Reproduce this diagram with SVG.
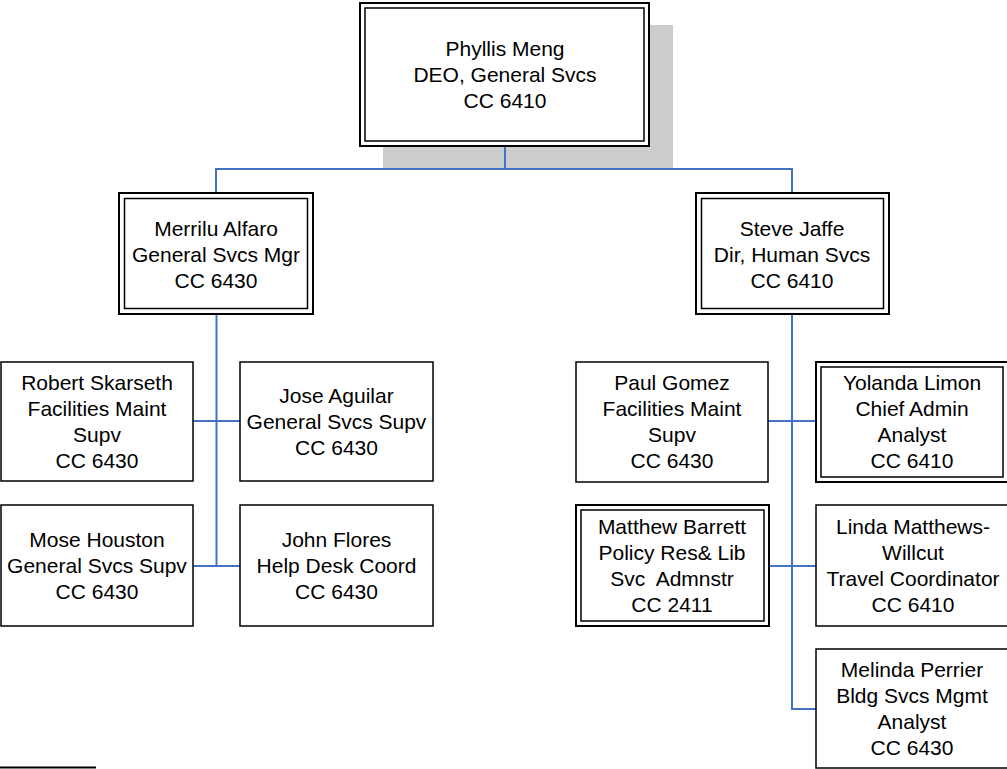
<svg xmlns="http://www.w3.org/2000/svg" width="1007" height="769" viewBox="0 0 1007 769">
<style>
.t{font-family:"Liberation Sans",Arial,sans-serif;font-size:21px;fill:#000;text-anchor:middle}
.b{fill:#fff;stroke:#000;stroke-width:1.5}
.o{fill:#fff;stroke:#000;stroke-width:2}
.i{fill:none;stroke:#000;stroke-width:1.5}
.c{fill:none;stroke:#4472C4;stroke-width:2}
</style>
<rect x="0" y="0" width="1007" height="769" fill="#fff"/>
<rect x="383" y="25" width="290" height="144" fill="#cccccc"/>
<g id="connectors">
<path class="c" d="M505 146V169M216 193V169H792V193"/>
<path class="c" d="M216.5 314V566M193 421H240M193 566H240"/>
<path class="c" d="M792 314V709H816M768 421H816M769 566H816"/>
</g>
<g id="phyllis">
<rect class="o" x="360" y="3" width="289" height="143"/>
<rect class="i" x="365" y="8" width="279" height="133"/>
<text class="t" x="505" y="56">Phyllis Meng</text>
<text class="t" x="505" y="82">DEO, General Svcs</text>
<text class="t" x="505" y="108">CC 6410</text>
</g>
<g id="merrilu">
<rect class="o" x="119" y="193" width="194" height="121"/>
<rect class="i" x="124.5" y="198.5" width="183" height="110"/>
<text class="t" x="216" y="236">Merrilu Alfaro</text>
<text class="t" x="216" y="262">General Svcs Mgr</text>
<text class="t" x="216" y="288">CC 6430</text>
</g>
<g id="steve">
<rect class="o" x="696" y="193" width="193" height="121"/>
<rect class="i" x="701.5" y="198.5" width="182" height="110"/>
<text class="t" x="792" y="236">Steve Jaffe</text>
<text class="t" x="792" y="262">Dir, Human Svcs</text>
<text class="t" x="792" y="288">CC 6410</text>
</g>
<g id="robert">
<rect class="b" x="1" y="362" width="192" height="119"/>
<text class="t" x="97" y="390">Robert Skarseth</text>
<text class="t" x="97" y="416">Facilities Maint</text>
<text class="t" x="97" y="442">Supv</text>
<text class="t" x="97" y="468">CC 6430</text>
</g>
<g id="jose">
<rect class="b" x="240" y="362" width="193" height="119"/>
<text class="t" x="336.5" y="403">Jose Aguilar</text>
<text class="t" x="336.5" y="429">General Svcs Supv</text>
<text class="t" x="336.5" y="455">CC 6430</text>
</g>
<g id="mose">
<rect class="b" x="1" y="505" width="192" height="121"/>
<text class="t" x="97" y="547">Mose Houston</text>
<text class="t" x="97" y="573">General Svcs Supv</text>
<text class="t" x="97" y="599">CC 6430</text>
</g>
<g id="john">
<rect class="b" x="240" y="505" width="193" height="121"/>
<text class="t" x="336.5" y="547">John Flores</text>
<text class="t" x="336.5" y="573">Help Desk Coord</text>
<text class="t" x="336.5" y="599">CC 6430</text>
</g>
<g id="paul">
<rect class="b" x="576" y="362" width="192" height="120"/>
<text class="t" x="672" y="390">Paul Gomez</text>
<text class="t" x="672" y="416">Facilities Maint</text>
<text class="t" x="672" y="442">Supv</text>
<text class="t" x="672" y="468">CC 6430</text>
</g>
<g id="yolanda">
<rect class="o" x="816" y="362" width="193" height="120"/>
<rect class="i" x="821" y="367" width="182" height="110"/>
<text class="t" x="912" y="390">Yolanda Limon</text>
<text class="t" x="912" y="416">Chief Admin</text>
<text class="t" x="912" y="442">Analyst</text>
<text class="t" x="912" y="468">CC 6410</text>
</g>
<g id="matthew">
<rect class="o" x="576" y="505" width="193" height="121"/>
<rect class="i" x="581" y="510" width="183" height="111"/>
<text class="t" x="672" y="534">Matthew Barrett</text>
<text class="t" x="672" y="560">Policy Res&amp; Lib</text>
<text class="t" x="672" y="586" xml:space="preserve">Svc  Admnstr</text>
<text class="t" x="672" y="612">CC 2411</text>
</g>
<g id="linda">
<rect class="b" x="816" y="505" width="193" height="121"/>
<text class="t" x="913" y="534">Linda Matthews-</text>
<text class="t" x="913" y="560">Willcut</text>
<text class="t" x="913" y="586">Travel Coordinator</text>
<text class="t" x="913" y="612">CC 6410</text>
</g>
<g id="melinda">
<rect class="b" x="816" y="649" width="193" height="119"/>
<text class="t" x="912" y="677">Melinda Perrier</text>
<text class="t" x="912" y="703">Bldg Svcs Mgmt</text>
<text class="t" x="912" y="729">Analyst</text>
<text class="t" x="912" y="755">CC 6430</text>
</g>
<line x1="0" y1="767.5" x2="96" y2="767.5" stroke="#000" stroke-width="2"/>
</svg>
